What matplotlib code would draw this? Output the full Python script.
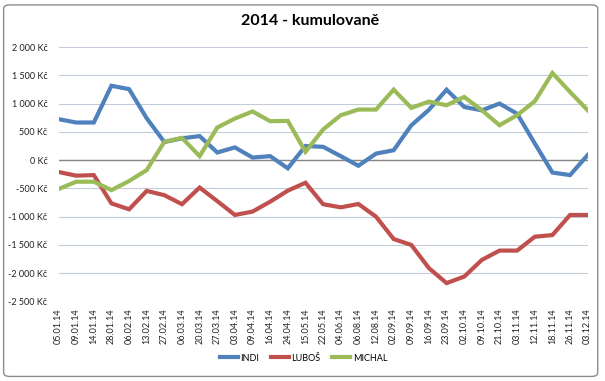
import numpy as np
import matplotlib
matplotlib.use("Agg")
import matplotlib.pyplot as plt
from matplotlib.patches import FancyBboxPatch
from matplotlib.ticker import FuncFormatter

plt.rcParams["font.family"] = ["Lato", "DejaVu Sans"]

dates = ["05.01.14", "09.01.14", "14.01.14", "28.01.14", "06.02.14", "13.02.14",
         "27.02.14", "06.03.14", "20.03.14", "27.03.14", "03.04.14", "09.04.14",
         "16.04.14", "24.04.14", "15.05.14", "22.05.14", "04.06.14", "06.08.14",
         "12.08.14", "02.09.14", "09.09.14", "16.09.14", "23.09.14", "02.10.14",
         "09.10.14", "21.10.14", "03.11.14", "12.11.14", "18.11.14", "26.11.14",
         "03.12.14"]

indi = [725, 665, 665, 1315, 1255, 740, 320, 385, 425, 135, 225, 45,
        70, -145, 250, 235, 70, -100, 115, 175, 615, 890, 1245, 940,
        880, 1000, 820, 295, -220, -265, 90]
lubos = [-210, -275, -265, -765, -870, -545, -620, -780, -485, -725, -970, -910,
         -735, -540, -400, -780, -835, -776, -1000, -1395, -1500, -1910, -2175, -2060,
         -1765, -1600, -1600, -1355, -1325, -970, -970]
michal = [-512, -382, -382, -530, -370, -176, 323, 394, 70, 576, 735, 860,
          688, 694, 147, 541, 794, 894, 894, 1247, 923, 1035, 970, 1117,
          882, 617, 794, 1041, 1540, 1205, 882]

series = [("INDI", indi, "#4F81BD"), ("LUBOŠ", lubos, "#C0504D"), ("MICHAL", michal, "#9BBB59")]

fig = plt.figure(figsize=(6.05, 3.81), dpi=100)

# chart frame like Excel
frame = FancyBboxPatch((0.006, 0.012), 0.982, 0.975, boxstyle="round,pad=0,rounding_size=0.01",
                       transform=fig.transFigure, fc="white", ec="#8C8C8C", lw=1.0, zorder=-1)
fig.patches.append(frame)

ax = fig.add_axes([0.0967, 0.2087, 0.8747, 0.6679])
x = np.arange(len(dates))
for name, vals, col in series:
    ax.plot(x, vals, color=col, lw=3.0, label=name, solid_joinstyle="miter", zorder=3)

ax.set_xlim(0, len(dates) - 1)
ax.set_ylim(-2500, 2000)
ax.set_yticks(np.arange(-2500, 2001, 500))
ax.yaxis.set_major_formatter(FuncFormatter(
    lambda v, p: "{:,} Kč".format(int(v)).replace(",", " ")))
ax.grid(axis="y", color="#C4CCDA", lw=0.8, zorder=1)
ax.axhline(0, color="#868686", lw=1.0, zorder=2)
for s in ax.spines.values():
    s.set_visible(False)
ax.tick_params(axis="y", length=0, pad=8, labelsize=6.5, colors="#222222")
ax.set_xticks(x)
ax.set_xticklabels(dates, rotation=90, fontsize=6.5, color="#222222")
ax.tick_params(axis="x", length=0, pad=5)

fig.text(0.512, 0.945, "2014 - kumulovaně", ha="center", va="center",
         fontsize=11.5, fontweight="bold")

leg = fig.legend(loc="center", bbox_to_anchor=(0.502, 0.06), ncol=3, frameon=False,
                 fontsize=6.5, handlelength=2.0, columnspacing=1.3, handletextpad=0.25)
for h in leg.get_lines():
    h.set_linewidth(3.0)

fig.savefig("out.png", dpi=100)
